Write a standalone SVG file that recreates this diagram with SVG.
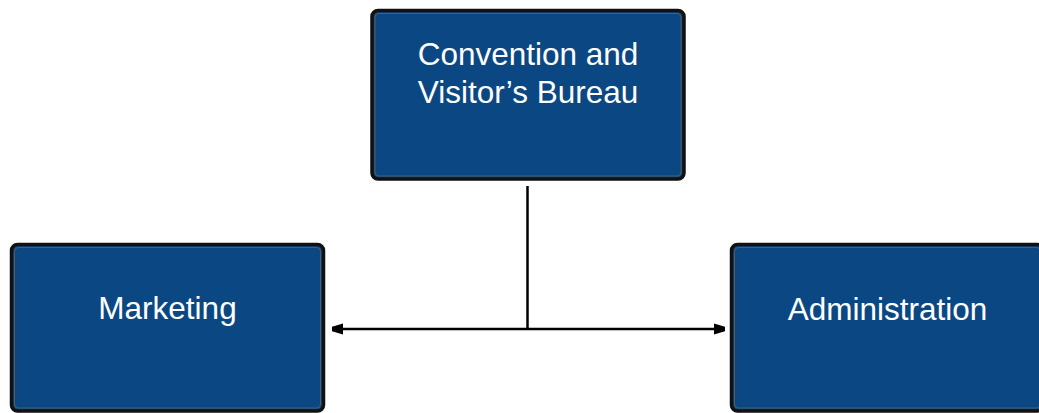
<svg xmlns="http://www.w3.org/2000/svg" width="1039" height="413" viewBox="0 0 1039 413">
<style>
.box{fill:#0B4883;stroke:#111;stroke-width:3.5}
.inner{fill:none;stroke:#5a5a5a;stroke-width:1}
.lbl{font-family:"Liberation Sans",Arial,sans-serif;font-size:31.5px;fill:#fff;text-anchor:middle}
.conn{stroke:#000;stroke-width:2.5;fill:none}
</style>
<defs>
<marker id="ah" viewBox="0 0 10 10" refX="10" refY="5" markerWidth="4.4" markerHeight="6.6" markerUnits="strokeWidth" orient="auto-start-reverse">
<path d="M0,0 L10,3 L10,7 L0,10 Z" fill="#000"/>
</marker>
</defs>
<rect width="1039" height="413" fill="#fff"/>
<g id="connectors">
<line class="conn" x1="527.5" y1="186" x2="527.5" y2="329"/>
<line class="conn" x1="332" y1="329" x2="725" y2="329" marker-start="url(#ah)" marker-end="url(#ah)"/>
</g>
<g id="node-cvb">
<rect class="box" x="372" y="10.5" width="312" height="168.5" rx="6"/>
<rect class="inner" x="375" y="13.5" width="306" height="162.5" rx="4"/>
<text class="lbl" x="528" y="65">Convention and</text>
<text class="lbl" x="528" y="103">Visitor’s Bureau</text>
</g>
<g id="node-marketing">
<rect class="box" x="11.5" y="244.5" width="312" height="166.5" rx="6"/>
<rect class="inner" x="14.5" y="247.5" width="306" height="160.5" rx="4"/>
<text class="lbl" x="167.5" y="319">Marketing</text>
</g>
<g id="node-administration">
<rect class="box" x="731.5" y="244.5" width="312" height="166.5" rx="6"/>
<rect class="inner" x="734.5" y="247.5" width="306" height="160.5" rx="4"/>
<text class="lbl" x="887.5" y="320">Administration</text>
</g>
</svg>
